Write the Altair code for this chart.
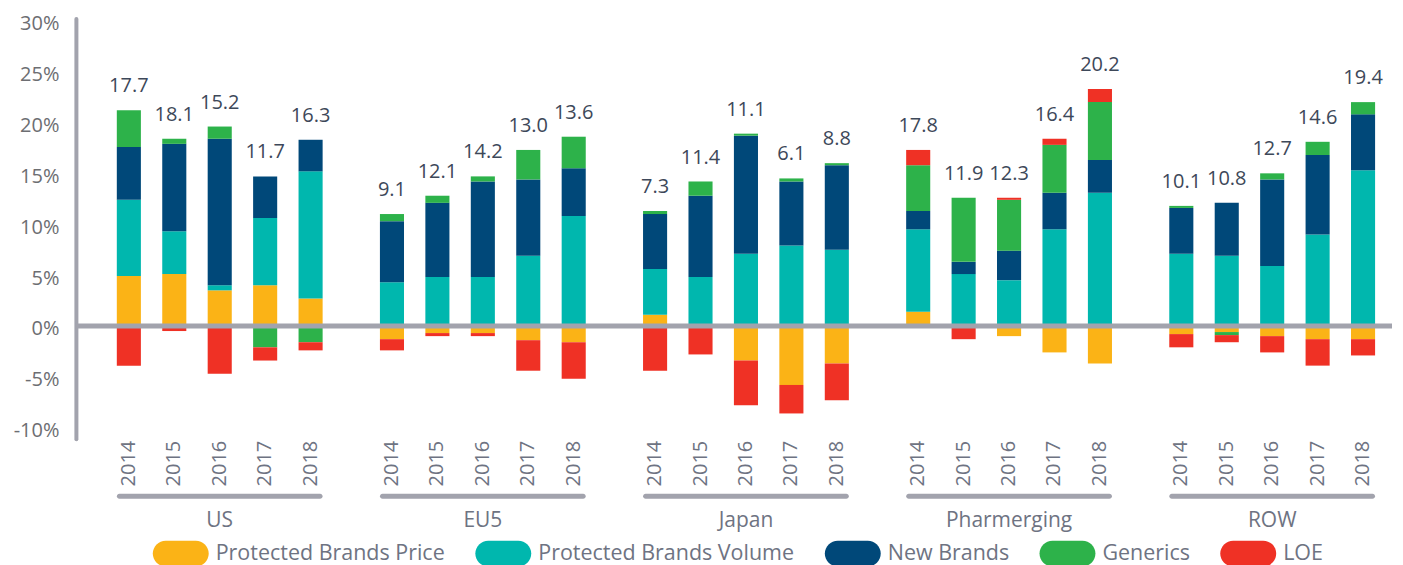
import altair as alt
import pandas as pd

regions = ["US", "EU5", "Japan", "Pharmerging", "ROW"]
years = ["2014", "2015", "2016", "2017", "2018"]
components = ["Protected Brands Price", "Protected Brands Volume", "New Brands", "Generics", "LOE"]
colors = ["#FBB316", "#00B7AE", "#004879", "#2DB24A", "#EF3125"]

# values per region (2014..2018), in % growth contribution
price = {
    "US": [4.9, 5.1, 3.5, 4.0, 2.7],
    "EU5": [-1.3, -0.7, -0.7, -1.4, -1.6],
    "Japan": [1.1, 0.0, -3.4, -5.8, -3.7],
    "Pharmerging": [1.4, 0.0, -1.0, -2.6, -3.7],
    "ROW": [-0.8, -0.6, -1.0, -1.3, -1.3],
}
volume = {
    "US": [7.5, 4.2, 0.5, 6.6, 12.5],
    "EU5": [4.3, 4.8, 4.8, 6.9, 10.8],
    "Japan": [4.5, 4.8, 7.1, 7.9, 7.5],
    "Pharmerging": [8.1, 5.1, 4.5, 9.5, 13.1],
    "ROW": [7.1, 6.9, 5.9, 9.0, 15.3],
}
new_brands = {
    "US": [5.2, 8.6, 14.4, 4.1, 3.1],
    "EU5": [6.0, 7.3, 9.4, 7.5, 4.7],
    "Japan": [5.4, 8.0, 11.6, 6.3, 8.3],
    "Pharmerging": [1.8, 1.2, 2.9, 3.6, 3.2],
    "ROW": [4.5, 5.2, 8.5, 7.8, 5.5],
}
generics = {
    "US": [3.6, 0.5, 1.2, -2.1, -1.6],
    "EU5": [0.7, 0.7, 0.5, 2.9, 3.1],
    "Japan": [0.3, 1.4, 0.2, 0.3, 0.2],
    "Pharmerging": [4.5, 6.3, 5.0, 4.7, 5.7],
    "ROW": [0.2, -0.3, 0.6, 1.3, 1.2],
}
loe = {
    "US": [-3.9, -0.5, -4.7, -1.3, -0.8],
    "EU5": [-1.1, -0.3, -0.3, -3.0, -3.6],
    "Japan": [-4.4, -2.8, -4.4, -2.8, -3.6],
    "Pharmerging": [1.5, -1.3, 0.2, 0.6, 1.3],
    "ROW": [-1.3, -0.7, -1.6, -2.6, -1.6],
}
totals = {
    "US": [17.7, 18.1, 15.2, 11.7, 16.3],
    "EU5": [9.1, 12.1, 14.2, 13.0, 13.6],
    "Japan": [7.3, 11.4, 11.1, 6.1, 8.8],
    "Pharmerging": [17.8, 11.9, 12.3, 16.4, 20.2],
    "ROW": [10.1, 10.8, 12.7, 14.6, 19.4],
}

series = [price, volume, new_brands, generics, loe]
rows = []
for r in regions:
    for i, yr in enumerate(years):
        for k, (comp, s) in enumerate(zip(components, series)):
            rows.append({"region": r, "year": yr, "component": comp,
                         "order": k, "value": s[r][i], "total": totals[r][i]})
df = pd.DataFrame(rows)

W, H = 1318, 421
GRAY = "#A2A3AD"
LABEL = "#6E7382"
FONT = "Open Sans"

PILL = ("M-1.154,-1 C-0.602,-1 0.602,-1 1.154,-1 "
        "C1.706,-1 2.154,-0.552 2.154,0 C2.154,0.552 1.706,1 1.154,1 "
        "L-1.154,1 C-1.706,1 -2.154,0.552 -2.154,0 "
        "C-2.154,-0.552 -1.706,-1 -1.154,-1 Z")

x_enc = alt.X("region:N", sort=regions,
              scale=alt.Scale(paddingInner=0.1366, paddingOuter=0.0693, align=0.829),
              axis=alt.Axis(title=None, domain=False, ticks=False, tickSize=0,
                            labelAngle=0, labelPadding=71, labelFontSize=21,
                            labelColor=LABEL, labelFont=FONT))
xo_enc = alt.XOffset("year:N", sort=years,
                     scale=alt.Scale(paddingInner=0.47, paddingOuter=0.235))
y_scale = alt.Scale(domain=[-11.09, 30.23], nice=False, zero=False)
y_axis = alt.Axis(title=None, values=list(range(-10, 31, 5)), labelExpr="datum.value + '%'",
                  grid=False, ticks=False, tickSize=0, domainColor=GRAY, domainWidth=4,
                  domainCap="round", labelFontSize=20, labelColor="#6D6E72",
                  labelPadding=17, labelOffset=3, labelFont=FONT)

base = alt.Chart(df)

bars = base.mark_bar().encode(
    x=x_enc, xOffset=xo_enc,
    y=alt.Y("value:Q", stack="zero", scale=y_scale, axis=y_axis),
    color=alt.Color("component:N", sort=components,
                    scale=alt.Scale(domain=components, range=colors),
                    legend=alt.Legend(orient="none", legendX=92, legendY=523,
                                      direction="horizontal", columns=5, title=None,
                                      symbolType=PILL, symbolSize=676,
                                      symbolStrokeWidth=0, symbolOpacity=1,
                                      labelFontSize=21.5, labelColor=LABEL, labelFont=FONT,
                                      labelOffset=22, columnPadding=29, padding=0,
                                      labelLimit=0)),
    order=alt.Order("order:Q"),
)

zero = base.transform_aggregate(n="count()").mark_rule(
    strokeWidth=5, color=GRAY).encode(
    y=alt.Y(datum=0, scale=y_scale, axis=y_axis))

total_text = base.transform_filter("datum.value > 0").transform_aggregate(
    top="sum(value)", total="max(total)", groupby=["region", "year"]
).mark_text(dy=-24, baseline="middle", fontSize=20, color="#3D4859", font=FONT).encode(
    x=x_enc, xOffset=xo_enc,
    y=alt.Y("top:Q", scale=y_scale, axis=y_axis),
    text=alt.Text("total:Q", format=".1f"),
)

year_text = base.transform_aggregate(
    n="count()", groupby=["region", "year"]
).mark_text(angle=270, align="right", baseline="middle", fontSize=20,
            color=LABEL, font=FONT).encode(
    x=x_enc, xOffset=xo_enc, y=alt.value(H + 2), text="year:N")

group_line = base.transform_aggregate(
    n="count()", groupby=["region"]
).mark_bar(width=206, cornerRadius=2.5, color=GRAY).encode(
    x=x_enc, y=alt.value(H + 55), y2=alt.value(H + 60))

chart = alt.layer(bars, zero, total_text, year_text, group_line).properties(
    width=W, height=H, padding={"left": 5, "top": 5, "right": 0, "bottom": 0}
).configure(font=FONT).configure_view(stroke=None)

chart.save("out.html", embed_options={"renderer": "svg", "actions": False})
